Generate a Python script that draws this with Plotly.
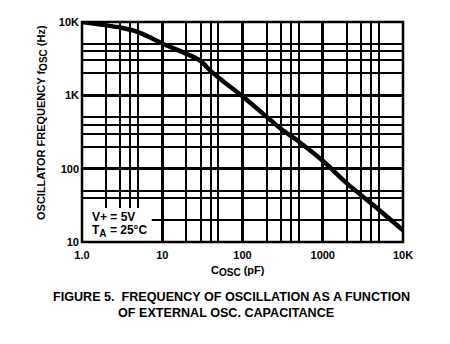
import plotly.graph_objects as go

# Data
c_osc_pf = [1, 2, 3, 5, 7, 10, 20, 30, 40, 50, 100, 200, 300, 500, 1000, 2000, 5000, 10000]
f_osc_hz = [10000, 9000, 8400, 7300, 6200, 5100, 3700, 2950, 2150, 1750, 970, 510, 350, 235, 128, 63, 27.5, 14.5]

x_major = [1, 10, 100, 1000, 10000]
x_major_text = ["1.0", "10", "100", "1000", "10K"]
x_minor = [2, 3, 4, 5, 20, 30, 40, 50, 200, 300, 400, 500, 2000, 3000, 4000, 5000]

y_major = [10, 100, 1000, 10000]
y_major_text = ["10", "100", "1K", "10K"]
y_minor = [20, 40, 50, 200, 300, 400, 500, 2000, 3000, 4000, 5000]

FONT = "Liberation Sans, Arial, sans-serif"
SUB = "<sub><span style='font-size:10px'>{}</span></sub>"

fig = go.Figure()
fig.add_trace(go.Scatter(
    x=c_osc_pf, y=f_osc_hz, mode="lines",
    line=dict(color="black", width=4.5, shape="spline", smoothing=0.6),
    showlegend=False, hoverinfo="skip",
))

fig.update_layout(
    width=450, height=344,
    margin=dict(l=82, r=47, t=22, b=102),
    paper_bgcolor="white", plot_bgcolor="white",
    font=dict(family=FONT, color="black", size=11),
    xaxis=dict(
        type="log", range=[0, 4],
        tickmode="array", tickvals=x_major, ticktext=x_major_text,
        showgrid=True, gridcolor="black", gridwidth=2.5,
        ticks="", showline=False, zeroline=False,
        tickfont=dict(family=FONT, size=11, weight="bold"),
        ticklabelstandoff=5,
        minor=dict(tickmode="array", tickvals=x_minor, showgrid=True,
                   gridcolor="black", gridwidth=1.8, ticks=""),
    ),
    yaxis=dict(
        type="log", range=[1, 4],
        tickmode="array", tickvals=y_major, ticktext=y_major_text,
        showgrid=True, gridcolor="black", gridwidth=2.5,
        ticks="", showline=False, zeroline=False,
        tickfont=dict(family=FONT, size=11, weight="bold"),
        ticklabelstandoff=2,
        minor=dict(tickmode="array", tickvals=y_minor, showgrid=True,
                   gridcolor="black", gridwidth=1.8, ticks=""),
    ),
    shapes=[
        dict(type="rect", xref="x", yref="y", x0=1, x1=7.4, y0=10, y1=29,
             fillcolor="white", line=dict(width=0), layer="above"),
        dict(type="rect", xref="paper", yref="paper", x0=0, x1=1, y0=0, y1=1,
             line=dict(color="black", width=2.5), layer="above"),
    ],
    annotations=[
        dict(xref="paper", yref="paper", x=(90 - 82) / 321, y=(242 - 217) / 220,
             xanchor="left", yanchor="middle", showarrow=False,
             text="V+ = 5V", font=dict(family=FONT, size=12, weight="bold")),
        dict(xref="paper", yref="paper", x=(90 - 82) / 321, y=(242 - 231) / 220,
             xanchor="left", yanchor="middle", showarrow=False,
             text="T" + SUB.format("A") + " = 25°C", font=dict(family=FONT, size=12, weight="bold")),
        dict(xref="paper", yref="paper", x=(237.5 - 82) / 321, y=(242 - 271) / 220,
             xanchor="center", yanchor="middle", showarrow=False,
             text="C" + SUB.format("OSC") + " (pF)", font=dict(family=FONT, size=11, weight="bold")),
        dict(xref="paper", yref="paper", x=(42 - 82) / 321, y=(242 - 123) / 220,
             xanchor="center", yanchor="middle", showarrow=False, textangle=-90,
             text="OSCILLATOR FREQUENCY f" + SUB.format("OSC") + " (Hz)",
             font=dict(family=FONT, size=11, weight="bold")),
        dict(xref="paper", yref="paper", x=(231.5 - 82) / 321, y=(242 - 297) / 220,
             xanchor="center", yanchor="middle", showarrow=False,
             text="FIGURE 5.  FREQUENCY OF OSCILLATION AS A FUNCTION",
             font=dict(family=FONT, size=12.6, weight="bold")),
        dict(xref="paper", yref="paper", x=(226 - 82) / 321, y=(242 - 313) / 220,
             xanchor="center", yanchor="middle", showarrow=False,
             text="OF EXTERNAL OSC. CAPACITANCE",
             font=dict(family=FONT, size=12.6, weight="bold")),
    ],
)

fig.write_html("out.html")
